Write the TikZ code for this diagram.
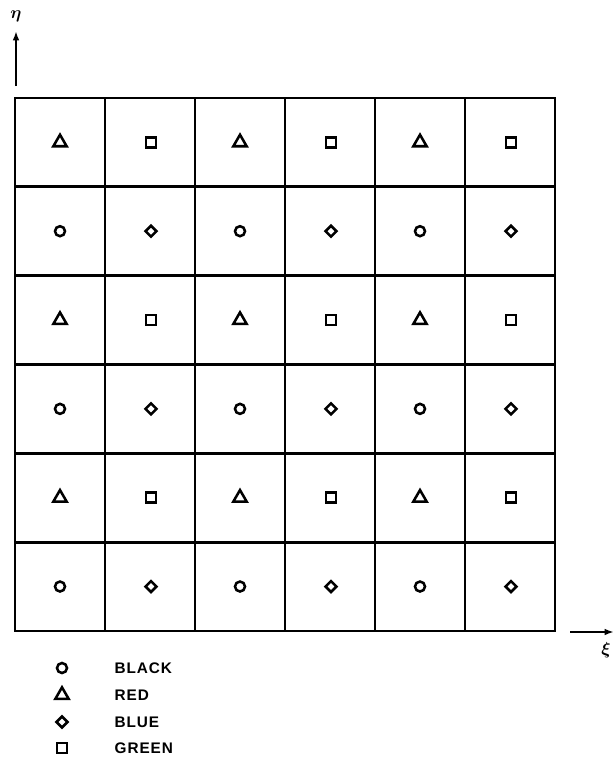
\documentclass[tikz,border=0pt]{standalone}
\usepackage{amsmath}
\usepackage{bm}
\usepackage{fontspec}
\setsansfont{Liberation Sans}
\usetikzlibrary{arrows.meta,shapes.geometric}

\begin{document}
\begin{tikzpicture}[x=0.75pt, y=-0.75pt,
  gridline/.style={line width=2.1pt},
  axis/.style={line width=1.6pt, -{Latex[length=7pt,width=5pt]}},
  sym/.style={draw, line width=1.9pt, inner sep=0pt, fill=white},
  dotted centre/.style={path picture={\fill (path picture bounding box.center) circle (0.6pt);}},
  blacksym/.style={sym, circle, minimum size=7.5pt},
  redsym/.style={sym, regular polygon, regular polygon sides=3, minimum size=11.5pt},
  bluesym/.style={sym, diamond, minimum size=9pt},
  greensym/.style={sym, rectangle, minimum size=7.5pt},
  legend/.style={anchor=west, font=\sffamily\bfseries\fontsize{11.5}{13}\selectfont\addfontfeature{LetterSpace=6}}
]
  \useasboundingbox (0,0) rectangle (615,760);

  % the 6x6 cell array
  \draw[gridline] (15,98) rectangle (555,631);
  \foreach \i in {1,...,5}{
    \draw[gridline] (15+90*\i,98) -- (15+90*\i,631);
    \draw[gridline] (15,98+88.83*\i) -- (555,98+88.83*\i);
  }

  % colour marks, one per cell
  \foreach \r in {0,2,4}{
    \foreach \c in {0,2,4}{
      \node[redsym, dotted centre]   (m-\r-\c) at (60+90*\c, 142.4+88.83*\r) {};
      \node[greensym, dotted centre] (m-\r-\c-g) at (151+90*\c, 142.4+88.83*\r) {};
      \node[blacksym, dotted centre] (m-\r-\c-k) at (60+90*\c, 231.2+88.83*\r) {};
      \node[bluesym, dotted centre]  (m-\r-\c-b) at (151+90*\c, 231.2+88.83*\r) {};
    }
  }

  % axes
  \coordinate (etaS) at (16,86);
  \coordinate (etaE) at (16,31);
  \draw[axis] (etaS) -- (etaE);
  \node[scale=1.3] (eta) at (16,16) {$\bm{\eta}$};
  \coordinate (xiS) at (570,632);
  \coordinate (xiE) at (614,632);
  \draw[axis] (xiS) -- (xiE);
  \node[scale=1.3] (xi) at (606,650) {$\bm{\xi}$};

  % legend
  \node[blacksym] (lk) at (62,668) {};
  \node[legend] at (110,668) {BLACK};
  \node[redsym] (lr) at (62,695) {};
  \node[legend] at (110,695) {RED};
  \node[bluesym] (lb) at (62,722) {};
  \node[legend] at (110,722) {BLUE};
  \node[greensym] (lg) at (62,748) {};
  \node[legend] at (110,748) {GREEN};
\end{tikzpicture}
\end{document}
